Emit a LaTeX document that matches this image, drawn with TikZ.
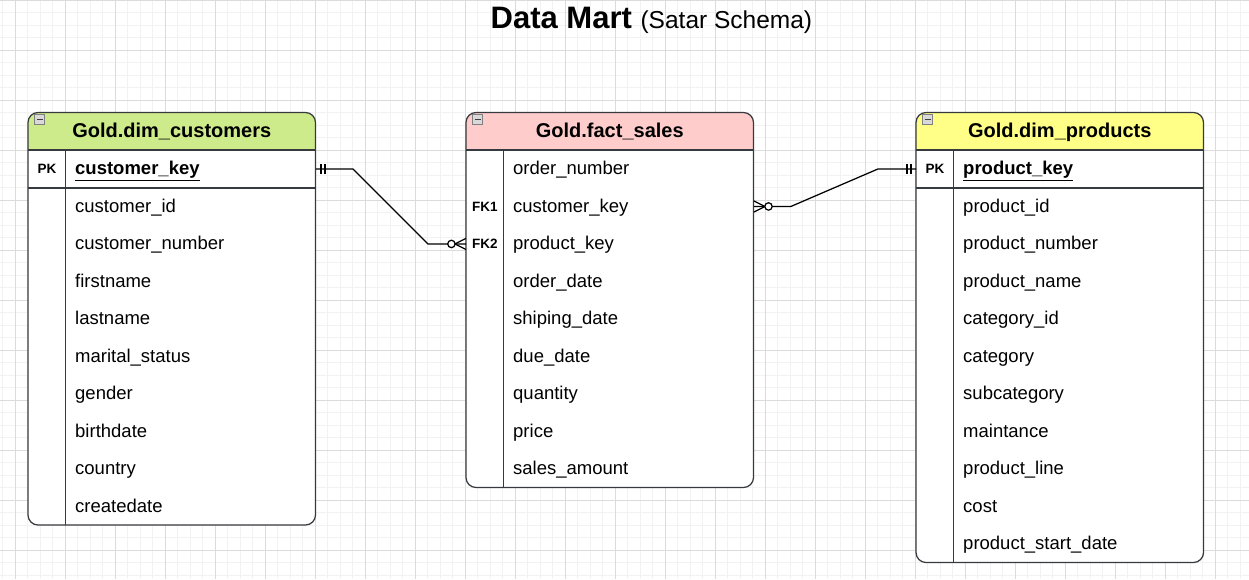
\documentclass[tikz,border=0pt]{standalone}
\usepackage{fontspec}
\setmainfont{Liberation Sans}
\usepackage{xcolor}
\usepackage{tikz}
\usetikzlibrary{calc,decorations.markings}

\definecolor{custgreen}{HTML}{CDEB8B}
\definecolor{salespink}{HTML}{FFCCCC}
\definecolor{prodyellow}{HTML}{FFFF88}
\definecolor{border}{HTML}{36393D}

\begin{document}
\begin{tikzpicture}[x=1pt,y=-1pt]
            \tikzset{minor/.style = {draw=black!5, line width=1pt}}
            \tikzset{major/.style = {draw=black!14, line width=1pt}}
            \tikzset{frame/.style = {draw=border, line width=1.25pt}}
            \tikzset{header/.style = {minimum width=287.5pt, minimum height=37.5pt, inner sep=0pt, text height=14pt, text depth=2pt, font=\bfseries\fontsize{20pt}{22pt}\selectfont}}
            \tikzset{field/.style = {anchor=north west, text width=231pt, minimum height=37.5pt, inner xsep=9.5pt, inner ysep=0pt, align=left, text height=13pt, text depth=1pt, font=\fontsize{18.5pt}{20pt}\selectfont}}
            \tikzset{keycell/.style = {anchor=north west, minimum width=37.5pt, minimum height=37.5pt, inner sep=0pt, text height=10pt, text depth=0.5pt, font=\bfseries\fontsize{13.5pt}{15pt}\selectfont}}
            \tikzset{link/.style = {draw=black, line width=1.25pt}}
            \tikzset{onestart/.style = {postaction={decorate, decoration={markings,
                mark=at position 5pt with {\draw[link] (0pt,-5pt) -- (0pt,5pt);},
                mark=at position 9pt with {\draw[link] (0pt,-5pt) -- (0pt,5pt);}}}}}
            \tikzset{oneend/.style = {postaction={decorate, decoration={markings,
                mark=at position -5pt with {\draw[link] (0pt,-5pt) -- (0pt,5pt);},
                mark=at position -9pt with {\draw[link] (0pt,-5pt) -- (0pt,5pt);}}}}}
            \tikzset{manystart/.style = {postaction={decorate, decoration={markings,
                mark=at position 0.1pt with {\draw[link] (0pt,5.5pt) -- (11pt,0pt) -- (0pt,-5.5pt);
                  \filldraw[link, fill=white] (14.5pt,0pt) circle (3.7pt);}}}}}
            \tikzset{manyend/.style = {postaction={decorate, decoration={markings,
                mark=at position -0.1pt with {\draw[link] (0pt,5.5pt) -- (-11pt,0pt) -- (0pt,-5.5pt);
                  \filldraw[link, fill=white] (-14.5pt,0pt) circle (3.7pt);}}}}}

            \useasboundingbox (0,0) rectangle (1249,579);
            \fill[white] (0,0) rectangle (1249,579);

            % grid
            \foreach \x in {2.8,15.3,...,1249} {\draw[minor] (\x,0) -- (\x,579);}
            \foreach \y in {0,12.5,...,579} {\draw[minor] (0,\y) -- (1249,\y);}
            \foreach \x in {15.3,65.3,...,1249} {\draw[major] (\x,0) -- (\x,579);}
            \foreach \y in {0,50,...,579} {\draw[major] (0,\y) -- (1249,\y);}

            \node[anchor=base west, inner sep=0pt] (title) at (490.5,28.5)
              {\bfseries\fontsize{31pt}{34pt}\selectfont Data Mart \mdseries\fontsize{24.5pt}{28pt}\selectfont (Satar Schema)};

            % tables
            \foreach \x/\b/\c in {28/525/custgreen, 466/487.5/salespink, 916/562.5/prodyellow}
            {
              \fill[white, rounded corners=10pt] (\x,112.5) rectangle (\x+287.5,\b);
              \begin{scope}
                \clip (\x-2,105) rectangle (\x+290,150);
                \fill[\c, rounded corners=10pt] (\x,112.5) rectangle (\x+287.5,\b);
              \end{scope}
              \draw[frame, rounded corners=10pt] (\x,112.5) rectangle (\x+287.5,\b);
              \draw[frame] (\x,150) -- (\x+287.5,150);
              \draw[frame] (\x+37.5,150) -- (\x+37.5,\b);
              \draw[draw=black!50, fill=black!15] (\x+6.5,114.5) rectangle (\x+16.5,124);
              \draw[black!75, line width=1.5pt] (\x+8.5,119.25) -- (\x+14.5,119.25);
            }
            \node[header] (cust) at (171.75,131.25) {Gold.dim\_customers};
            \node[header] (sales) at (609.75,131.25) {Gold.fact\_sales};
            \node[header] (prod) at (1059.75,131.25) {Gold.dim\_products};

            % fields
            \foreach \f [count=\i] in {\underline{\textbf{customer\_key}}, customer\_id, customer\_number, firstname, lastname, marital\_status, gender, birthdate, country, createdate}
            {
              \node[field] (c\i) at (65.5,112.5+37.5*\i) {\f};
            }
            \foreach \f [count=\i] in {order\_number, customer\_key, product\_key, order\_date, shiping\_date, due\_date, quantity, price, sales\_amount}
            {
              \node[field] (f\i) at (503.5,112.5+37.5*\i) {\f};
            }
            \foreach \f [count=\i] in {\underline{\textbf{product\_key}}, product\_id, product\_number, product\_name, category\_id, category, subcategory, maintance, product\_line, cost, product\_start\_date}
            {
              \node[field] (p\i) at (953.5,112.5+37.5*\i) {\f};
            }
            \node[keycell] (cpk) at (28,150) {PK};
            \node[keycell] (fk1) at (466,187.5) {FK1};
            \node[keycell] (fk2) at (466,225) {FK2};
            \node[keycell] (ppk) at (916,150) {PK};
            \draw[draw=border, line width=2pt] (cpk.south west) -- (c1.south east);
            \draw[draw=border, line width=2pt] (ppk.south west) -- (p1.south east);

            % links
            \draw[link, onestart, manyend] (c1.east) -- ([xshift=37pt]c1.east) -- ([xshift=-38pt]fk2.west) -- (fk2.west);
            \draw[link, manystart, oneend] (f2.east) -- ([xshift=37pt]f2.east) -- ([xshift=-38pt]ppk.west) -- (ppk.west);

          \end{tikzpicture}
\end{document}
